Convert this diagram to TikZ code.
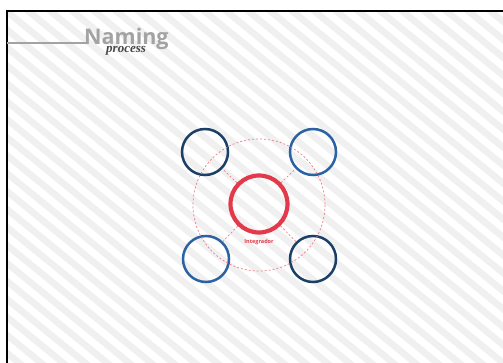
\documentclass[tikz,border=0pt]{standalone}
\usepackage{fontspec}
\setmainfont{Open Sans}
\newfontfamily\procfont{Liberation Serif}
\definecolor{navy}{HTML}{1B3F66}
\definecolor{midblue}{HTML}{2B62A3}
\definecolor{redc}{HTML}{E23A4A}
\definecolor{dashred}{HTML}{EE7C86}
\definecolor{stripebg}{HTML}{F0F0F0}
\definecolor{titlegray}{HTML}{A3A3A3}
\tikzset{
  satellite/.style={circle, draw, line width=2.5pt, minimum size=46pt, inner sep=0pt},
  hub/.style={circle, draw=redc, line width=4.2pt, minimum size=57pt, inner sep=0pt},
  dashlink/.style={draw=dashred, dash pattern=on 2pt off 2pt, line width=0.7pt},
}
\begin{document}
\begin{tikzpicture}[x=1pt,y=-1pt]
\useasboundingbox (0,0) rectangle (503,363);
\fill[white] (0,0) rectangle (503,363);
% striped background
\begin{scope}
\clip (7,11) rectangle (503,363);
\fill[stripebg] (7,11) rectangle (503,363);
\foreach \k in {-30,...,40}{
  \fill[white] ({\k*22-300},-10) -- ({\k*22-300+11},-10) -- ({\k*22+11+180},{-10+490*0.8}) -- ({\k*22+180},{-10+490*0.8}) -- cycle;
}
\end{scope}
% frame
\draw[black, line width=1.4pt] (7,363) -- (7,11) -- (503,11);
% title
\draw[titlegray, line width=1.5pt] (7,43) -- (86,43);
\node[anchor=base west, inner sep=0pt, text=titlegray, font=\fontsize{21.5}{22}\selectfont\bfseries] (title) at (84,45) {Naming};
\node[anchor=base west, inner sep=0pt, text=black!72, font=\procfont\fontsize{13}{13}\selectfont\bfseries\itshape] (sub) at (106,53) {process};
% diagram
\node[hub] (hub) at (259,204) {};
\node[satellite, draw=navy] (tl) at (205,152) {};
\node[satellite, draw=midblue] (tr) at (313,152) {};
\node[satellite, draw=midblue] (bl) at (206,259) {};
\node[satellite, draw=navy] (br) at (313,259) {};
\node[text=redc, font=\fontsize{5.5}{6}\selectfont\bfseries, inner sep=0pt] (lab) at (259,242) {Integrador};
\draw[dashlink] (259,205) circle (66);
\draw[dashlink] (hub) -- (tl);
\draw[dashlink] (hub) -- (tr);
\draw[dashlink] (hub) -- (bl);
\draw[dashlink] (hub) -- (br);
\end{tikzpicture}
\end{document}
